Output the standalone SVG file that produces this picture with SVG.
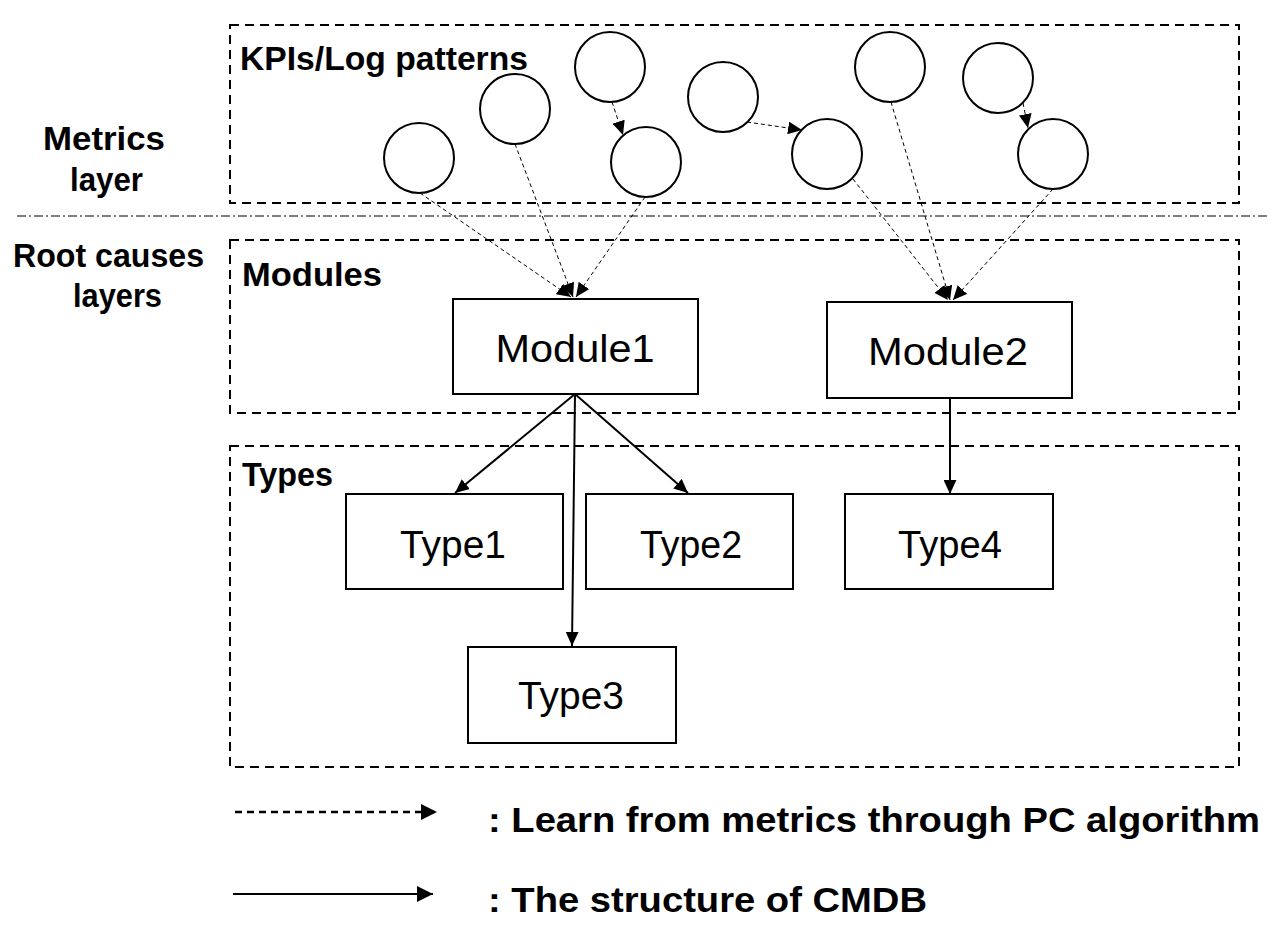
<svg xmlns="http://www.w3.org/2000/svg" width="1270" height="932" viewBox="0 0 1270 932">
<defs>
<style>
.layer{fill:none;stroke:#000;stroke-width:2;stroke-dasharray:9 6}
.sep{fill:none;stroke:#000;stroke-width:1;stroke-dasharray:9 3 2 3}
.circ{fill:#fff;stroke:#000;stroke-width:2}
.box{fill:#fff;stroke:#000;stroke-width:2}
.lbl{font-family:"Liberation Sans",Arial,sans-serif;font-weight:bold;fill:#000}
.ntxt{font-family:"Liberation Sans",Arial,sans-serif;font-size:38px;fill:#000;text-anchor:middle}
.dash{fill:none;stroke:#000;stroke-width:1;stroke-dasharray:4 3}
.solid{fill:none;stroke:#000;stroke-width:2}
.legdash{fill:none;stroke:#000;stroke-width:2.5;stroke-dasharray:7 5}
</style>
<marker id="ah" markerUnits="userSpaceOnUse" markerWidth="14" markerHeight="13" refX="12" refY="5.5" orient="auto" viewBox="0 0 12 11">
<path d="M0,0 L12,5.5 L0,11 Z" fill="#000"/>
</marker>
<marker id="ahl" markerUnits="userSpaceOnUse" markerWidth="16" markerHeight="16" refX="14" refY="7" orient="auto" viewBox="0 0 14 14">
<path d="M0,0 L14,7 L0,14 Z" fill="#000"/>
</marker>
</defs>
<rect width="1270" height="932" fill="#fff"/>

<g id="layers">
<rect class="layer" x="230" y="25" width="1009" height="178"/>
<line class="sep" x1="17" y1="216" x2="1270" y2="216"/>
<rect class="layer" x="230" y="240" width="1009" height="173"/>
<rect class="layer" x="230" y="446" width="1009" height="321"/>
</g>

<g id="labels">
<text class="lbl" x="240" y="70" font-size="33" textLength="288" lengthAdjust="spacingAndGlyphs">KPIs/Log patterns</text>
<text class="lbl" x="43" y="150" font-size="33" textLength="122" lengthAdjust="spacingAndGlyphs">Metrics</text>
<text class="lbl" x="70" y="190.5" font-size="33" textLength="73" lengthAdjust="spacingAndGlyphs">layer</text>
<text class="lbl" x="13" y="266.5" font-size="33" textLength="191" lengthAdjust="spacingAndGlyphs">Root causes</text>
<text class="lbl" x="73" y="307" font-size="33" textLength="89" lengthAdjust="spacingAndGlyphs">layers</text>
<text class="lbl" x="242" y="286" font-size="33" textLength="140" lengthAdjust="spacingAndGlyphs">Modules</text>
<text class="lbl" x="242" y="485.5" font-size="33" textLength="91" lengthAdjust="spacingAndGlyphs">Types</text>
</g>

<g id="connectors">
<line class="dash" x1="420" y1="193" x2="571" y2="297" marker-end="url(#ah)"/>
<line class="dash" x1="515" y1="144" x2="573" y2="297" marker-end="url(#ah)"/>
<line class="dash" x1="645" y1="197" x2="576" y2="297" marker-end="url(#ah)"/>
<line class="dash" x1="612" y1="102" x2="623" y2="135" marker-end="url(#ah)"/>
<line class="dash" x1="747" y1="122" x2="802" y2="130" marker-end="url(#ah)"/>
<line class="dash" x1="1023" y1="103" x2="1028" y2="128" marker-end="url(#ah)"/>
<line class="dash" x1="853" y1="179" x2="948" y2="300" marker-end="url(#ah)"/>
<line class="dash" x1="891" y1="102" x2="950" y2="300" marker-end="url(#ah)"/>
<line class="dash" x1="1053" y1="189" x2="953" y2="300" marker-end="url(#ah)"/>
<line class="solid" x1="575" y1="394" x2="455" y2="493" marker-end="url(#ah)"/>
<line class="solid" x1="575" y1="394" x2="688" y2="493" marker-end="url(#ah)"/>
<line class="solid" x1="575" y1="394" x2="572" y2="646" marker-end="url(#ah)"/>
<line class="solid" x1="950" y1="398" x2="950" y2="494" marker-end="url(#ah)"/>
</g>

<g id="c1"><circle class="circ" cx="419" cy="158" r="35"/></g>
<g id="c2"><circle class="circ" cx="515" cy="109" r="35"/></g>
<g id="c3"><circle class="circ" cx="610" cy="67" r="35"/></g>
<g id="c4"><circle class="circ" cx="646" cy="162" r="35"/></g>
<g id="c5"><circle class="circ" cx="723" cy="97" r="35"/></g>
<g id="c6"><circle class="circ" cx="827" cy="154" r="35"/></g>
<g id="c7"><circle class="circ" cx="890" cy="67" r="35"/></g>
<g id="c8"><circle class="circ" cx="998" cy="78" r="35"/></g>
<g id="c9"><circle class="circ" cx="1053" cy="154" r="35"/></g>

<g id="module1"><rect class="box" x="453" y="299" width="245" height="95"/><text class="ntxt" x="575" y="361.5" textLength="159" lengthAdjust="spacingAndGlyphs">Module1</text></g>
<g id="module2"><rect class="box" x="827" y="302" width="245" height="96"/><text class="ntxt" x="948" y="365" textLength="160" lengthAdjust="spacingAndGlyphs">Module2</text></g>
<g id="type1"><rect class="box" x="346" y="494" width="217" height="95"/><text class="ntxt" x="453" y="558" textLength="106" lengthAdjust="spacingAndGlyphs">Type1</text></g>
<g id="type2"><rect class="box" x="586" y="494" width="207" height="95"/><text class="ntxt" x="691" y="558" textLength="102" lengthAdjust="spacingAndGlyphs">Type2</text></g>
<g id="type3"><rect class="box" x="468" y="647" width="208" height="96"/><text class="ntxt" x="571" y="709" textLength="106" lengthAdjust="spacingAndGlyphs">Type3</text></g>
<g id="type4"><rect class="box" x="845" y="494" width="208" height="95"/><text class="ntxt" x="950" y="558" textLength="104" lengthAdjust="spacingAndGlyphs">Type4</text></g>

<g id="legend">
<line class="legdash" x1="235" y1="812" x2="437" y2="812" marker-end="url(#ahl)"/>
<line class="solid" x1="233" y1="894" x2="433" y2="894" stroke-width="2.5" marker-end="url(#ahl)"/>
<text class="lbl" x="488" y="832" font-size="35" textLength="772" lengthAdjust="spacingAndGlyphs">: Learn from metrics through PC algorithm</text>
<text class="lbl" x="488" y="911.5" font-size="35" textLength="439" lengthAdjust="spacingAndGlyphs">: The structure of CMDB</text>
</g>
</svg>
